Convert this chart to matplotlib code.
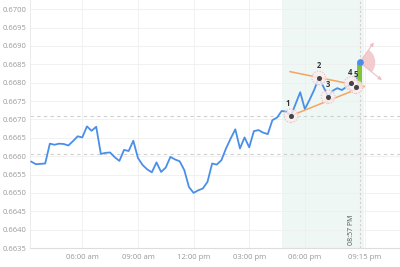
import matplotlib
matplotlib.use('Agg')
import matplotlib.pyplot as plt
from matplotlib.patches import Wedge
from matplotlib.transforms import ScaledTranslation

plt.rcParams['font.family'] = ['Open Sans', 'DejaVu Sans']

# price series, 15 min bars
times = ['03:15', '03:30', '03:45', '04:00', '04:15', '04:30', '04:45', '05:00',
         '05:15', '05:30', '05:45', '06:00', '06:15', '06:30', '06:45', '07:00',
         '07:15', '07:30', '07:45', '08:00', '08:15', '08:30', '08:45', '09:00',
         '09:15', '09:30', '09:45', '10:00', '10:15', '10:30', '10:45', '11:00',
         '11:15', '11:30', '11:45', '12:00', '12:15', '12:30', '12:45', '13:00',
         '13:15', '13:30', '13:45', '14:00', '14:15', '14:30', '14:45', '15:00',
         '15:15', '15:30', '15:45', '16:00', '16:15', '16:30', '16:45', '17:00',
         '17:15', '17:45', '18:00', '18:15', '18:30', '18:45', '19:00', '19:15',
         '19:30', '19:45', '20:00', '20:15', '20:30', '20:45', '20:57']
prices = [0.66585, 0.66578, 0.66579, 0.66580, 0.66634, 0.66631, 0.66634, 0.66633,
          0.66629, 0.66641, 0.66654, 0.66651, 0.66681, 0.66669, 0.66680, 0.66606,
          0.66609, 0.66610, 0.66597, 0.66587, 0.66617, 0.66614, 0.66642, 0.66595,
          0.66576, 0.66564, 0.66556, 0.66583, 0.66557, 0.66569, 0.66598, 0.66591,
          0.66586, 0.66562, 0.66516, 0.66500, 0.66507, 0.66512, 0.66530, 0.66580,
          0.66577, 0.66589, 0.66621, 0.66648, 0.66673, 0.66621, 0.66651, 0.66624,
          0.66668, 0.66671, 0.66664, 0.66660, 0.66698, 0.66705, 0.66723, 0.66721,
          0.66710, 0.66774, 0.66728, 0.66753, 0.66780, 0.66813, 0.66789, 0.66762,
          0.66778, 0.66785, 0.66780, 0.66789, 0.66798, 0.66789, 0.66855]

# pattern points 1..5
pt_labels = ['1', '2', '3', '4', '5']
pt_times = ['17:15', '18:45', '19:15', '20:30', '20:45']
pt_prices = [0.66710, 0.66813, 0.66762, 0.66798, 0.66789]

# trend lines (start, end)
upper_t = ['17:12', '21:11']
upper_p = [0.66830, 0.66789]
lower_t = ['17:15', '21:11']
lower_p = [0.66710, 0.66790]

hlines = [0.66710, 0.66606]
zone = ['16:46', '21:11']
now_time = '20:57'
bar_bottom = 0.66794

ytick_vals = [0.6635, 0.6640, 0.6645, 0.6650, 0.6655, 0.6660, 0.6665,
              0.6670, 0.6675, 0.6680, 0.6685, 0.6690, 0.6695, 0.6700]
xtick_times = ['06:00', '09:00', '12:00', '15:00', '18:00', '21:15', '24:00']
xtick_labels = ['06:00 am', '09:00 am', '12:00 pm', '03:00 pm', '06:00 pm', '09:15 pm', '12:00 am']


def hrs(s):
    h, m = s.split(':')
    return int(h) + int(m) / 60.0


t = [hrs(s) for s in times]
pt_t = [hrs(s) for s in pt_times]

fig = plt.figure(figsize=(4, 2.67), dpi=100)
ax = fig.add_axes([0.075, 1 - 248 / 267, 0.925, 248 / 267])

ax.axvspan(hrs(zone[0]), hrs(zone[1]), color='#eef7f3', zorder=0, lw=0)

for v in hlines:
    ax.axhline(v, color='#cfcfcf', lw=0.8, dashes=(3, 3), zorder=1)
ax.axvline(hrs(now_time), color='#dccbce', lw=0.8, dashes=(2, 2), zorder=1)

ax.plot(t, prices, color='#4a8fe7', lw=1.3, zorder=3)

ax.plot([hrs(s) for s in upper_t], upper_p, color='#f5a462', lw=1.1, zorder=4)
ax.plot([hrs(s) for s in lower_t], lower_p, color='#f5a462', lw=1.1, zorder=4)

ax.bar([hrs(now_time)], [prices[-1] - bar_bottom], bottom=bar_bottom, width=0.27,
       color='#86c13c', zorder=5)
ax.plot([t[-1]], [prices[-1]], 'o', color='#4a8fe7', ms=3.8, zorder=6)

# halo + dot for each pattern point
ax.plot(pt_t, pt_prices, 'o', ms=10, mfc='#fbeef0', mec='none', alpha=0.8,
        ls='none', zorder=6)
for tt, pp in zip(pt_t, pt_prices):
    c = plt.Circle((0, 0), 0.068, transform=fig.dpi_scale_trans + ScaledTranslation(tt, pp, ax.transData),
                   fill=False, ec='#ecc3c8', lw=0.9, ls=(0, (1, 1.2)), zorder=6)
    ax.add_patch(c)
ax.plot(pt_t, pt_prices, 'o', ms=2.6, color='#444444', ls='none', zorder=7)
offs = [(-2, 8.5), (0, 9), (0, 9), (-1, 8), (0, 9)]
for lab, tt, pp, o in zip(pt_labels, pt_t, pt_prices, offs):
    ax.annotate(lab, (tt, pp), xytext=o, textcoords='offset points', ha='center',
                va='center', fontsize=5.5, color='#333333', fontweight='bold', zorder=8)

# direction fan at the last bar
trans = fig.dpi_scale_trans + ScaledTranslation(t[-1], prices[-1], ax.transData)
ax.add_patch(Wedge((0, 0), 0.157, -38, 54, transform=trans, color='#f1c3c8',
                   alpha=0.85, lw=0, zorder=5))
for dx, dy in [(10.3, 14.4), (16.1, -12.7)]:
    ax.annotate('', xy=(t[-1], prices[-1]), xytext=(dx, dy), textcoords='offset points',
                arrowprops=dict(arrowstyle='<|-', color='#eec0c5', lw=0.8,
                                shrinkA=0, shrinkB=0, mutation_scale=5), zorder=5)

ax.annotate('08:57 PM', (hrs(now_time), 0.6635), xytext=(-3, 2), textcoords='offset points',
            rotation=90, ha='right', va='bottom', fontsize=5, color='#555555')

ax.set_yticks(ytick_vals)
ax.set_yticklabels(['%.4f' % v for v in ytick_vals])
ax.set_xticks([hrs(s) for s in xtick_times])
ax.set_xticklabels(xtick_labels)
ax.set_xlim(3.18, 23.13)
ax.set_ylim(0.6635, 0.67025)
ax.tick_params(length=0, labelsize=5.5, labelcolor='#999999')
ax.tick_params(axis='y', pad=2.5)
ax.tick_params(axis='x', pad=4)
ax.grid(True, color='#efefef', lw=0.6, zorder=0)
ax.set_axisbelow(True)
for s in ['top', 'right']:
    ax.spines[s].set_visible(False)
ax.spines['left'].set_color('#e8e8e8')
ax.spines['bottom'].set_color('#dddddd')
ax.spines['left'].set_linewidth(0.6)
ax.spines['bottom'].set_linewidth(0.8)

fig.savefig('out.png', dpi=100)
